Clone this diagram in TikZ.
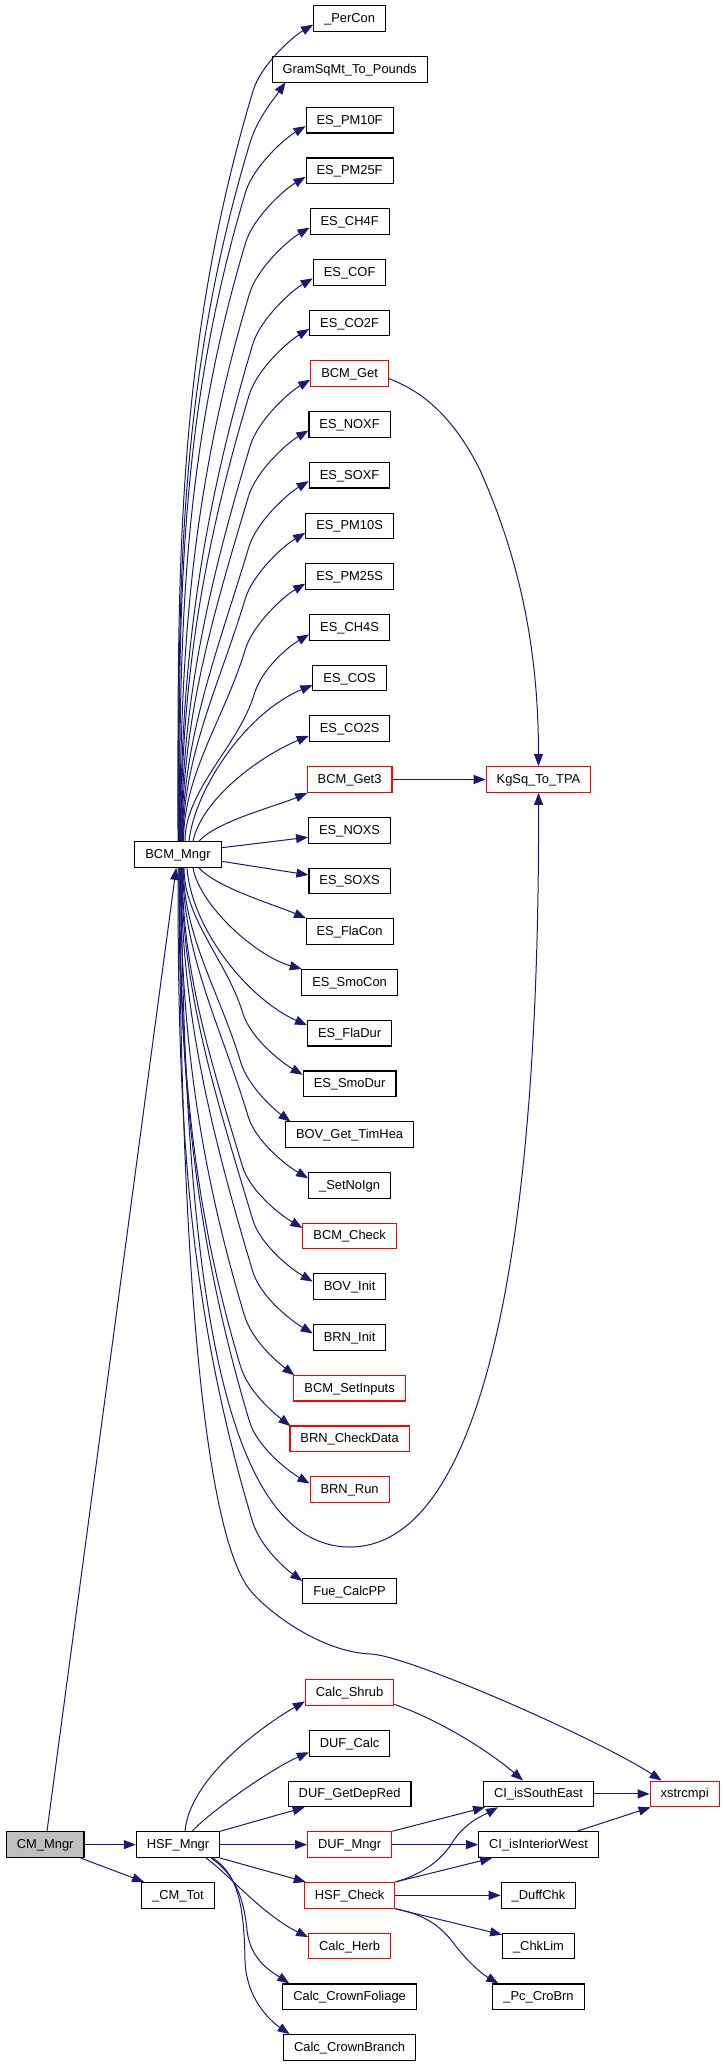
\documentclass[tikz,border=0pt]{standalone}
\usepackage{fontspec}
\setmainfont{Liberation Sans}
\usetikzlibrary{arrows.meta}
\definecolor{edgeblue}{HTML}{191970}
\definecolor{boxred}{HTML}{FF0000}
\definecolor{cmgray}{HTML}{BFBFBF}
\begin{document}
\begin{tikzpicture}[x=1pt,y=-1pt,
  box/.style={draw=black, line width=1.1pt, fill=white, minimum height=25.7pt,
    inner xsep=10.5pt, inner ysep=0pt, font=\fontsize{12.9}{14}\selectfont,
    text height=10pt, text depth=2pt},
  redbox/.style={box, draw=boxred},
  graybox/.style={box, fill=cmgray},
  edge/.style={draw=edgeblue, line width=1pt, -{Triangle[length=12pt,width=9pt]}}]
\useasboundingbox (0,0) rectangle (723,2064);

% column 1
\node[box] (bcm) at (178,854.5) {BCM\_Mngr};
\node[graybox] (cm) at (45.2,1844.62) {CM\_Mngr};
\node[box] (hsf) at (178,1844.62) {HSF\_Mngr};
\node[box] (cmtot) at (178,1895.34) {\_CM\_Tot};

% column 2
\node[box] (percon) at (349.6,18.7) {\_PerCon};
\node[box] (gram) at (349.6,69.42) {GramSqMt\_To\_Pounds};
\node[box] (pm10f) at (349.6,120.14) {ES\_PM10F};
\node[box] (pm25f) at (349.6,170.86) {ES\_PM25F};
\node[box] (ch4f) at (349.6,221.58) {ES\_CH4F};
\node[box] (cof) at (349.6,272.3) {ES\_COF};
\node[box] (co2f) at (349.6,323.02) {ES\_CO2F};
\node[redbox] (bcmget) at (349.6,373.74) {BCM\_Get};
\node[box] (noxf) at (349.6,424.46) {ES\_NOXF};
\node[box] (soxf) at (349.6,475.18) {ES\_SOXF};
\node[box] (pm10s) at (349.6,525.9) {ES\_PM10S};
\node[box] (pm25s) at (349.6,576.62) {ES\_PM25S};
\node[box] (ch4s) at (349.6,627.34) {ES\_CH4S};
\node[box] (cos) at (349.6,678.06) {ES\_COS};
\node[box] (co2s) at (349.6,728.78) {ES\_CO2S};
\node[redbox] (get3) at (349.6,779.5) {BCM\_Get3};
\node[box] (noxs) at (349.6,830.22) {ES\_NOXS};
\node[box] (soxs) at (349.6,880.94) {ES\_SOXS};
\node[box] (flacon) at (349.6,931.66) {ES\_FlaCon};
\node[box] (smocon) at (349.6,982.38) {ES\_SmoCon};
\node[box] (fladur) at (349.6,1033.1) {ES\_FlaDur};
\node[box] (smodur) at (349.6,1083.82) {ES\_SmoDur};
\node[box] (bovget) at (349.6,1134.54) {BOV\_Get\_TimHea};
\node[box] (setnoign) at (349.6,1185.26) {\_SetNoIgn};
\node[redbox] (bcmcheck) at (349.6,1235.98) {BCM\_Check};
\node[box] (bovinit) at (349.6,1286.7) {BOV\_Init};
\node[box] (brninit) at (349.6,1337.42) {BRN\_Init};
\node[redbox] (setinputs) at (349.6,1388.14) {BCM\_SetInputs};
\node[redbox] (checkdata) at (349.6,1438.86) {BRN\_CheckData};
\node[redbox] (brnrun) at (349.6,1489.58) {BRN\_Run};
\node[box] (fue) at (349.6,1591.02) {Fue\_CalcPP};
\node[redbox] (shrub) at (349.6,1692.46) {Calc\_Shrub};
\node[box] (dufcalc) at (349.6,1743.18) {DUF\_Calc};
\node[box] (dgdr) at (349.6,1793.9) {DUF\_GetDepRed};
\node[redbox] (dufm) at (349.6,1844.62) {DUF\_Mngr};
\node[redbox] (hsfc) at (349.6,1895.34) {HSF\_Check};
\node[redbox] (herb) at (349.6,1946.06) {Calc\_Herb};
\node[box] (fol) at (349.6,1996.78) {Calc\_CrownFoliage};
\node[box] (branch) at (349.6,2047.5) {Calc\_CrownBranch};

% column 3
\node[redbox] (kgsq) at (538.5,779.5) {KgSq\_To\_TPA};
\node[box] (cise) at (538.5,1793.9) {CI\_isSouthEast};
\node[box] (ciw) at (538.5,1844.62) {CI\_isInteriorWest};
\node[box] (duff) at (538.5,1895.34) {\_DuffChk};
\node[box] (chklim) at (538.5,1946.06) {\_ChkLim};
\node[box] (pccro) at (538.5,1996.78) {\_Pc\_CroBrn};
\node[redbox] (xs) at (684.65,1793.9) {xstrcmpi};

% BCM_Mngr upper fan
\foreach \n/\k/\sx/\ex/\ey/\qx/\qy/\cx/\cy in {
  percon/0/0/0/6/-60/66/-22/13,
  gram/1/0.5/14/12.85/-36/62/-14/20,
  pm10f/2/1/0/6/-60/66/-22/13,
  pm25f/3/1.5/0/6/-60/66/-22/13,
  ch4f/4/2/0/6/-60/66/-22/13,
  cof/5/2.5/0/6/-60/66/-22/13,
  co2f/6/3/0/6/-60/66/-22/13,
  bcmget/7/3.5/0/6/-60/66/-22/13,
  noxf/8/4/0/6/-60/66/-22/13,
  soxf/9/4.5/0/6/-60/66/-22/13,
  pm10s/10/5/0/7/-60/66/-22/13,
  pm25s/11/5.5/0/7/-60/66/-22/13,
  ch4s/12/7/0/7/-55/60/-22/13}
{
  \pgfmathsetmacro\L{0.35*(842-(18.7+50.72*\k+\ey+\qy))}
  \pgfmathsetmacro\Lx{0.3*\L}
  \pgfmathsetmacro\Qx{\ex+\qx}
  \pgfmathsetmacro\Qy{\ey+\qy}
  \draw[edge] ([xshift=\sx pt]bcm.north) .. controls +(0,-\L) and +(-\Lx,\L) ..
    ([shift={(\Qx,\Qy)}]\n.west) .. controls +(7.5,-25) and +(\cx,\cy) ..
    ([shift={(\ex,\ey)}]\n.west);
}
\draw[edge] ([xshift=11pt]bcm.north) .. controls +(6,-52) and +(-67,28) .. ([yshift=-7pt]cos.west);
\draw[edge] ([xshift=15pt]bcm.north) .. controls +(9,-42) and +(-50,21) .. ([yshift=-7pt]co2s.west);
\draw[edge] ([xshift=21pt]bcm.north) .. controls +(18,-20) and +(-30,13) .. ([xshift=0.5pt]get3.south west);
\draw[edge] ([yshift=6.8pt]bcm.east) -- ([yshift=-7pt]noxs.west);
\draw[edge] ([yshift=-6.8pt]bcm.east) -- ([yshift=6pt]soxs.west);
\draw[edge] ([xshift=21pt]bcm.south) .. controls +(18,20) and +(-30,-13) .. ([xshift=0.5pt]flacon.north west);
\draw[edge] ([xshift=15pt]bcm.south) .. controls +(7,38) and +(-46,-13) .. ([xshift=0.5pt]smocon.north west);
\draw[edge] ([xshift=9pt]bcm.south) .. controls +(5,63) and +(-57,-25) .. ([yshift=8pt]fladur.west);

% BCM_Mngr lower fan
\foreach \n/\k/\sx/\ex/\ey/\qx/\qy/\cx/\cy in {
  smodur/21/6/0/-9/-60/-62/-22/-13,
  bovget/22/5.4/5.5/-12.85/-50/-60/-16/-12,
  setnoign/23/4.8/0/-7/-60/-62/-22/-13,
  bcmcheck/24/4.2/0/-8/-60/-62/-22/-13,
  bovinit/25/3.6/0/-5/-60/-62/-22/-13,
  brninit/26/3/0/-4/-60/-62/-22/-13,
  setinputs/27/2.4/1/-12.85/-50/-60/-18/-14,
  checkdata/28/1.8/1/-12.85/-50/-60/-18/-14,
  brnrun/29/1.2/0/-6/-60/-62/-22/-13,
  fue/31/0/0/-10/-50/-60/-18/-13}
{
  \pgfmathsetmacro\L{0.35*((18.7+50.72*\k+\ey+\qy)-867.3)}
  \pgfmathsetmacro\Lx{0.3*\L}
  \pgfmathsetmacro\Qx{\ex+\qx}
  \pgfmathsetmacro\Qy{\ey+\qy}
  \draw[edge] ([xshift=\sx pt]bcm.south) .. controls +(0,\L) and +(-\Lx,-\L) ..
    ([shift={(\Qx,\Qy)}]\n.west) .. controls +(7.5,25) and +(\cx,\cy) ..
    ([shift={(\ex,\ey)}]\n.west);
}

% long edges
\draw[edge] ([xshift=3pt]bcm.south) .. controls (184,1250) and (215,1547) .. (350,1547)
  .. controls (470,1547) and (540,1300) .. (kgsq.south);
\draw[edge] ([xshift=1pt]bcm.south) .. controls (181,1300) and (208,1537.5) .. (250,1590)
  .. controls (267,1611) and (320,1652) .. (371,1654)
  .. controls (410,1656) and (600,1740) .. ([xshift=12pt]xs.north west);
\draw[edge] ([yshift=-5pt]bcmget.east) .. controls (425,392) and (455,420) .. (480,470)
  .. controls (520,560) and (538.5,650) .. (kgsq.north);
\draw[edge] (get3) -- (kgsq);

% CM_Mngr
\draw[edge] (cm) -- (bcm);
\draw[edge] (cm) -- (hsf);
\draw[edge] ([xshift=-4pt]cm.south east) -- ([xshift=3pt]cmtot.north west);

% HSF_Mngr
\draw[edge] ([xshift=7pt]hsf.north) .. controls +(5,-56) and +(-35,20) .. ([yshift=-9pt]shrub.west);
\draw[edge] ([xshift=14pt]hsf.north) .. controls +(20,-21) and +(-38,17) .. ([yshift=-9pt]dufcalc.west);
\draw[edge] (hsf.north east) -- ([xshift=17pt]dgdr.south west);
\draw[edge] (hsf) -- (dufm);
\draw[edge] (hsf.south east) -- ([xshift=2pt]hsfc.north west);
\draw[edge] ([xshift=28pt]hsf.south) .. controls +(19,13) and +(-45,-22) .. ([yshift=9pt]herb.west);
\draw[edge] ([xshift=33pt]hsf.south) .. controls (236,1875) and (244,1900) .. (247,1930)
  .. controls (250,1960) and (272,1972) .. ([xshift=7pt]fol.north west);
\draw[edge] ([xshift=35pt]hsf.south) .. controls (238,1875) and (244,1905) .. (245,1960)
  .. controls (246,2000) and (272,2022) .. ([xshift=6.6pt]branch.north west);

% third column
\draw[edge] ([yshift=1.5pt]shrub.south east) .. controls (440,1720) and (490,1752) .. ([xshift=40pt]cise.north west);
\draw[edge] (cise) -- (xs);
\draw[edge] ([xshift=-22pt]ciw.north east) -- ([xshift=1pt]xs.south west);
\draw[edge] (dufm.north east) -- ([xshift=2pt]cise.south west);
\draw[edge] (dufm) -- (ciw);
\draw[edge] (hsfc.north east) .. controls (420,1875) and (440,1862) .. (452,1843)
  .. controls (465,1822) and (484,1815) .. ([xshift=15pt]cise.south west);
\draw[edge] (hsfc.north east) -- ([xshift=14pt]ciw.south west);
\draw[edge] (hsfc) -- (duff);
\draw[edge] (hsfc.south east) -- ([yshift=-2pt]chklim.north west);
\draw[edge] (hsfc.south east) .. controls (425,1915) and (440,1925) .. (455,1945)
  .. controls (468,1962) and (482,1974) .. ([xshift=6pt]pccro.north west);
\end{tikzpicture}
\end{document}
